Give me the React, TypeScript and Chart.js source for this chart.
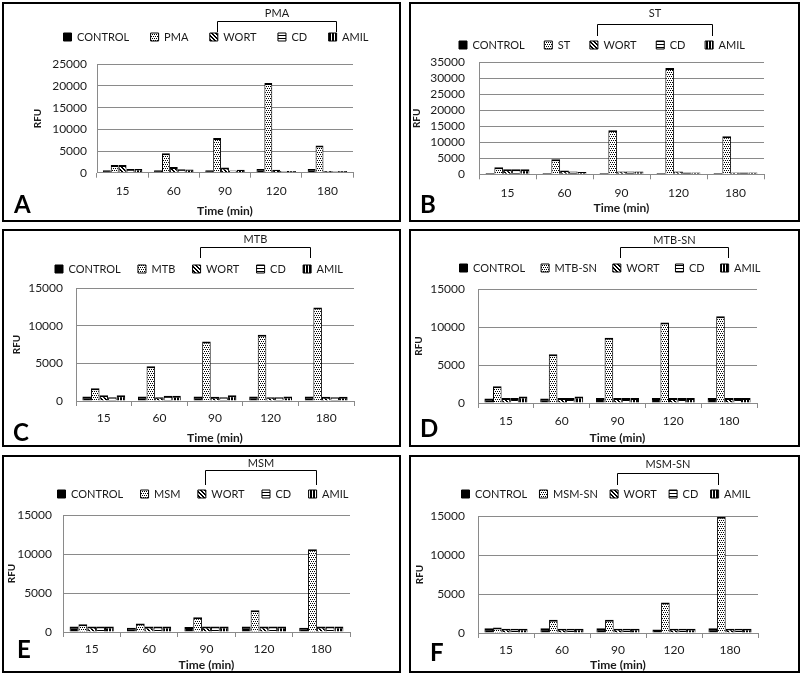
import React, { useEffect, useRef } from "react";
import { Chart, registerables } from "chart.js";
Chart.register(...registerables);

// ---------- data ----------
const TIME_LABELS = ["15", "60", "90", "120", "180"];
const Y_STEP = 5000;

// Panel A – PMA
const A_CONTROL = [550, 550, 550, 850, 850];
const A_PMA = [1800, 4500, 8000, 20700, 6300];
const A_WORT = [1800, 1300, 1200, 700, 400];
const A_CD = [850, 800, 500, 400, 400];
const A_AMIL = [850, 750, 700, 400, 400];

// Panel B – ST
const B_CONTROL = [400, 400, 400, 400, 400];
const B_ST = [2200, 4700, 13800, 33200, 11900];
const B_WORT = [1600, 1200, 900, 900, 600];
const B_CD = [1600, 900, 900, 600, 600];
const B_AMIL = [1600, 700, 900, 600, 600];

// Panel C – MTB
const C_CONTROL = [600, 600, 600, 600, 600];
const C_MTB = [1700, 4600, 7900, 8800, 12400];
const C_WORT = [750, 500, 550, 500, 550];
const C_CD = [500, 700, 500, 500, 500];
const C_AMIL = [750, 700, 750, 600, 550];

// Panel D – MTB-SN
const D_CONTROL = [600, 600, 650, 650, 650];
const D_MTBSN = [2200, 6400, 8600, 10600, 11400];
const D_WORT = [650, 650, 650, 650, 650];
const D_CD = [650, 650, 650, 650, 650];
const D_AMIL = [850, 850, 650, 650, 650];

// Panel E – MSM
const E_CONTROL = [700, 550, 650, 700, 550];
const E_MSM = [1000, 1100, 1900, 2800, 10600];
const E_WORT = [700, 700, 700, 700, 700];
const E_CD = [700, 700, 700, 700, 700];
const E_AMIL = [700, 700, 700, 700, 700];

// Panel F – MSM-SN
const F_CONTROL = [600, 600, 600, 450, 600];
const F_MSMSN = [700, 1700, 1700, 3900, 14900];
const F_WORT = [550, 550, 550, 550, 550];
const F_CD = [550, 550, 550, 550, 550];
const F_AMIL = [550, 550, 550, 550, 550];

// ---------- layout (page coordinates) ----------
type PanelCfg = {
  letter: string;
  treat: string;
  yMax: number;
  series: number[][];
  box: [number, number, number, number];
  plot: [number, number, number, number]; // left, top, right, bottom(zero)
  legendY: number;
  legendCx: number;
  legendSpan: number;
  bracket: { label: number; h: number; v: number };
  rfuX: number;
  timeY: number;
  catY: number;
  tickGap: number;
  letterX: number;
  letterY: number;
};

const PANELS: PanelCfg[] = [
  {
    letter: "A", treat: "PMA", yMax: 25000,
    series: [A_CONTROL, A_PMA, A_WORT, A_CD, A_AMIL],
    box: [2, 2, 401, 222], plot: [97, 64.3, 353, 172.7],
    legendY: 37, legendCx: 215.5, legendSpan: 305,
    bracket: { label: 13, h: 21, v: 32 },
    rfuX: 38, timeY: 211, catY: 191, tickGap: 10, letterX: 14, letterY: 205,
  },
  {
    letter: "B", treat: "ST", yMax: 35000,
    series: [B_CONTROL, B_ST, B_WORT, B_CD, B_AMIL],
    box: [409, 2, 800, 222], plot: [479, 62.3, 764, 174.3],
    legendY: 45, legendCx: 602, legendSpan: 286,
    bracket: { label: 13, h: 24, v: 36 },
    rfuX: 417, timeY: 208, catY: 193, tickGap: 14, letterX: 420, letterY: 205,
  },
  {
    letter: "C", treat: "MTB", yMax: 15000,
    series: [C_CONTROL, C_MTB, C_WORT, C_CD, C_AMIL],
    box: [2, 229, 401, 447], plot: [76, 288, 354, 401],
    legendY: 269, legendCx: 199, legendSpan: 288,
    bracket: { label: 239, h: 247, v: 258 },
    rfuX: 17, timeY: 438, catY: 418, tickGap: 13, letterX: 13, letterY: 433,
  },
  {
    letter: "D", treat: "MTB-SN", yMax: 15000,
    series: [D_CONTROL, D_MTBSN, D_WORT, D_CD, D_AMIL],
    box: [409, 229, 800, 447], plot: [478, 289, 757, 403],
    legendY: 268, legendCx: 609.5, legendSpan: 301,
    bracket: { label: 240, h: 247, v: 258 },
    rfuX: 419, timeY: 438, catY: 421, tickGap: 13, letterX: 420, letterY: 429,
  },
  {
    letter: "E", treat: "MSM", yMax: 15000,
    series: [E_CONTROL, E_MSM, E_WORT, E_CD, E_AMIL],
    box: [2, 455, 401, 673], plot: [63, 515, 350, 632],
    legendY: 494, legendCx: 202.5, legendSpan: 291,
    bracket: { label: 463, h: 470, v: 485 },
    rfuX: 12, timeY: 665, catY: 649, tickGap: 11, letterX: 17, letterY: 650,
  },
  {
    letter: "F", treat: "MSM-SN", yMax: 15000,
    series: [F_CONTROL, F_MSMSN, F_WORT, F_CD, F_AMIL],
    box: [409, 455, 800, 673], plot: [478, 516, 758, 633],
    legendY: 494, legendCx: 605.5, legendSpan: 289,
    bracket: { label: 464, h: 473, v: 485 },
    rfuX: 420, timeY: 665, catY: 650, tickGap: 13, letterX: 430, letterY: 653,
  },
];

const FONT = "Lato";
const LEG_FONT = 11;
const BOX = 8;
const TEXT = "#1a1a1a";
const GRID = "#8a8a8a";

function seriesNames(cfg: PanelCfg) {
  return ["CONTROL", cfg.treat, "WORT", "CD", "AMIL"];
}

function geometry(cfg: PanelCfg) {
  const ctx = document.createElement("canvas").getContext("2d")!;
  ctx.font = `${LEG_FONT}px ${FONT}`;
  const sumW = seriesNames(cfg).reduce(
    (a, t) => a + BOX + LEG_FONT / 2 + ctx.measureText(t).width, 0);
  const p = Math.max(4, (cfg.legendSpan - sumW) / 4);
  const CW = 440;
  const CL = Math.round(cfg.legendCx - CW / 2);
  const legendTopPage = cfg.legendY - p - LEG_FONT / 2;
  const CT = Math.floor(Math.min(cfg.box[1], legendTopPage, cfg.bracket.label - 10));
  const padTop = legendTopPage - CT;
  const legendBottomPage = legendTopPage + LEG_FONT + p + 10;
  const topH = Math.max(0, cfg.plot[1] - legendBottomPage);
  const CB = cfg.box[3] + 4;
  const CH = CB - CT;
  const xH = CB - cfg.plot[3];
  const yW = cfg.plot[0] - CL;
  const yRW = CL + CW - cfg.plot[2];
  return { p, CW, CL, CT, CH, CB, padTop, topH, xH, yW, yRW };
}

function makePattern(kind: string): CanvasPattern | string {
  const n = kind === "horiz" || kind === "vert" ? 3 : 4;
  const c = document.createElement("canvas");
  c.width = n;
  c.height = n;
  const g = c.getContext("2d")!;
  g.fillStyle = "#fff";
  g.fillRect(0, 0, n, n);
  g.fillStyle = "#000";
  if (kind === "dots") {
    g.fillRect(0, 0, 1, 1);
    g.fillRect(2, 0, 1, 1);
    g.fillRect(1, 2, 1, 1);
    g.fillRect(3, 2, 1, 1);
  } else if (kind === "diag") {
    for (let i = 0; i < 4; i++) {
      g.fillRect(i, i, 1, 1);
      g.fillRect((i + 1) % 4, i, 1, 1);
    }
  } else if (kind === "horiz") {
    g.fillRect(0, 0, 3, 1);
  } else if (kind === "vert") {
    g.fillRect(0, 0, 2, 3);
  }
  return g.createPattern(c, "repeat") || "#888";
}

function Panel({ cfg }: { cfg: PanelCfg }) {
  const ref = useRef<HTMLCanvasElement>(null);
  const g = geometry(cfg);

  useEffect(() => {
    const canvas = ref.current;
    if (!canvas) return;
    const fills = ["#000", makePattern("dots"), makePattern("diag"), makePattern("horiz"), makePattern("vert")];
    const names = seriesNames(cfg);

    const bracketPlugin = {
      id: "bracket" + cfg.letter,
      afterDraw(chart: any) {
        const hb = chart.legend && chart.legend.legendHitBoxes;
        if (!hb || hb.length < 5) return;
        const ctx = chart.ctx;
        const x1 = Math.round(hb[2].left + BOX) - 0.5;
        const x2 = Math.round(hb[4].left + BOX) - 0.5;
        const yH = Math.round(cfg.bracket.h - g.CT) + 0.5;
        const yV = cfg.bracket.v - g.CT;
        ctx.save();
        ctx.strokeStyle = "#000";
        ctx.lineWidth = 1;
        ctx.beginPath();
        ctx.moveTo(x1, yV);
        ctx.lineTo(x1, yH);
        ctx.lineTo(x2, yH);
        ctx.lineTo(x2, yV);
        ctx.stroke();
        ctx.fillStyle = TEXT;
        ctx.font = `${LEG_FONT}px ${FONT}`;
        ctx.textAlign = "center";
        ctx.textBaseline = "middle";
        ctx.fillText(cfg.treat, (x1 + x2) / 2, cfg.bracket.label - g.CT);
        ctx.restore();
      },
    };

    const chart = new Chart(canvas, {
      type: "bar",
      data: {
        labels: TIME_LABELS,
        datasets: names.map((n, i) => ({
          label: n,
          data: cfg.series[i],
          backgroundColor: fills[i] as any,
          borderColor: "#000",
          borderWidth: { top: 2, left: 1, right: 1, bottom: 0 },
          barPercentage: 1,
          categoryPercentage: 0.77,
          xAxisID: "x",
          yAxisID: "y",
        })),
      },
      options: {
        responsive: false,
        animation: false,
        layout: { padding: { top: g.padTop, left: 0, right: 0, bottom: 0 } },
        plugins: {
          legend: {
            display: true,
            position: "top",
            labels: {
              boxWidth: BOX,
              boxHeight: BOX,
              padding: g.p,
              color: TEXT,
              font: { family: FONT, size: LEG_FONT },
            },
          },
          tooltip: { enabled: false },
          title: { display: false },
        },
        scales: {
          x: {
            type: "category",
            position: "bottom",
            grid: { display: true, drawOnChartArea: false, drawTicks: true, tickLength: 5, color: GRID, offset: true },
            border: { display: true, color: GRID },
            ticks: {
              color: TEXT,
              padding: cfg.catY - cfg.plot[3] - 5 - 7.2,
              font: { family: FONT, size: 12 },
              autoSkip: false,
              maxRotation: 0,
            },
            title: {
              display: true,
              text: "Time (min)",
              color: TEXT,
              font: { family: FONT, size: 12, weight: "bold" },
              padding: { top: 0, bottom: g.CB - cfg.timeY - 7.2 },
            },
            afterFit: (s: any) => { s.height = g.xH; },
          },
          xTop: {
            type: "category",
            position: "top",
            display: true,
            grid: { display: false },
            border: { display: false },
            ticks: { display: false },
            afterFit: (s: any) => { s.height = g.topH; },
          },
          y: {
            type: "linear",
            position: "left",
            min: 0,
            max: cfg.yMax,
            grid: { color: GRID, drawTicks: false },
            border: { display: true, color: GRID },
            ticks: {
              stepSize: Y_STEP,
              autoSkip: false,
              padding: cfg.tickGap,
              color: TEXT,
              font: { family: FONT, size: 12 },
              callback: (v: any) => String(v),
            },
            title: {
              display: true,
              text: "RFU",
              color: TEXT,
              font: { family: FONT, size: 10, weight: "bold" },
              padding: { top: cfg.rfuX - g.CL - 6, bottom: 0 },
            },
            afterFit: (s: any) => { s.width = g.yW; },
          },
          yR: {
            type: "linear",
            position: "right",
            display: true,
            grid: { display: false },
            border: { display: false },
            ticks: { display: false },
            afterFit: (s: any) => { s.width = g.yRW; },
          },
        },
      } as any,
      plugins: [bracketPlugin as any],
    });
    return () => chart.destroy();
  }, []);

  const [bl, bt, br, bb] = cfg.box;
  return (
    <>
      <div
        style={{
          position: "absolute", left: bl, top: bt, width: br - bl, height: bb - bt,
          border: "2px solid #000", boxSizing: "border-box",
        }}
      />
      <canvas
        ref={ref}
        width={g.CW}
        height={g.CH}
        style={{ position: "absolute", left: g.CL, top: g.CT, width: g.CW, height: g.CH }}
      />
      <div
        style={{
          position: "absolute", left: cfg.letterX, top: cfg.letterY - 12.65,
          font: `bold 24px ${FONT}`, lineHeight: "24px", color: "#000",
        }}
      >
        {cfg.letter}
      </div>
    </>
  );
}

export default function App() {
  return (
    <div
      style={{
        position: "absolute", left: 0, top: 0, width: 804, height: 676,
        overflow: "hidden", background: "#fff",
      }}
    >
      {PANELS.map((p) => (
        <Panel key={p.letter} cfg={p} />
      ))}
    </div>
  );
}
